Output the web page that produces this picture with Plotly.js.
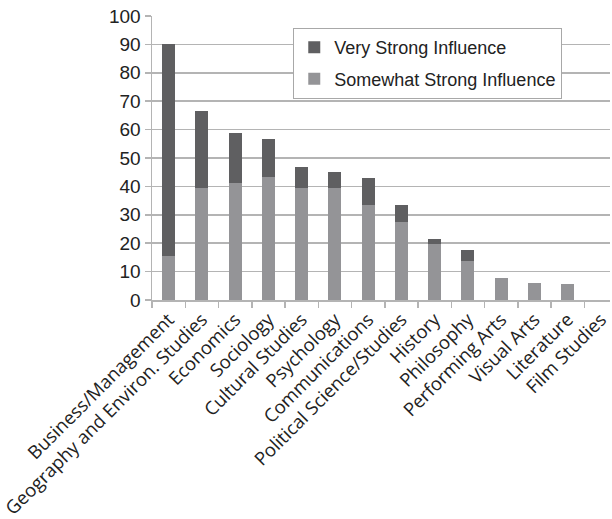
<!DOCTYPE html>
<html>
<head>
<meta charset="utf-8">
<script src="https://cdn.plot.ly/plotly-3.0.1.min.js"></script>
<style>html,body{margin:0;padding:0;background:#fff;}#chart{width:612px;height:519px;}</style>
</head>
<body>
<div id="chart"></div>
<script>
const categories = ["Business/Management","Geography and Environ. Studies","Economics","Sociology","Cultural Studies","Psychology","Communications","Political Science/Studies","History","Philosophy","Performing Arts","Visual Arts","Literature","Film Studies"];
const somewhatStrong = [15.5, 39.4, 41.2, 43.2, 39.4, 39.4, 33.4, 27.5, 19.7, 13.7, 7.7, 6.0, 5.7, 0];
const veryStrong = [74.8, 27.1, 17.5, 13.5, 7.5, 5.6, 9.6, 5.8, 1.8, 3.9, 0, 0, 0, 0];
const yTicks = [0,10,20,30,40,50,60,70,80,90,100];

const gridCol = '#b4b4b4';
const traces = [
  {type:'bar', name:'Somewhat Strong Influence', x:categories, y:somewhatStrong, marker:{color:'#949497'}, legendgroup:'b', legendrank:2, hoverinfo:'skip'},
  {type:'bar', name:'Very Strong Influence', x:categories, y:veryStrong, marker:{color:'#5f5f61'}, legendgroup:'a', legendrank:1, hoverinfo:'skip'}
];
const layout = {
  width:612, height:519,
  margin:{l:152, r:2, t:15.7, b:219},
  paper_bgcolor:'#fff', plot_bgcolor:'#fff',
  barmode:'stack', bargap:0.61,
  showlegend:true,
  legend:{x:0.308, y:0.958, xanchor:'left', yanchor:'top', bgcolor:'#fff', bordercolor:'#a8a8a8', borderwidth:1.2,
    font:{family:'Liberation Sans, Arial, sans-serif', size:18, color:'#222'}, traceorder:'grouped', tracegroupgap:5},
  xaxis:{range:[-0.5, 13.27], tickangle:-45, tickson:'boundaries', ticks:'outside', ticklen:6, tickcolor:gridCol, tickwidth:1.5,
    showline:true, linecolor:gridCol, linewidth:1.5, showgrid:false, zeroline:false,
    tickfont:{family:'Open Sans, sans-serif', size:18.5, color:'#222'}, fixedrange:true},
  yaxis:{range:[0,100], tickvals:yTicks, ticktext:yTicks.map(String), ticks:'outside', ticklen:6, tickcolor:gridCol, tickwidth:1.5,
    showline:true, linecolor:gridCol, linewidth:1.5, showgrid:true, gridcolor:gridCol, gridwidth:1.5, zeroline:false,
    tickfont:{family:'Liberation Sans, Arial, sans-serif', size:19, color:'#222'}, fixedrange:true}
};
Plotly.newPlot('chart', traces, layout, {displayModeBar:false, staticPlot:true});
</script>
</body>
</html>
